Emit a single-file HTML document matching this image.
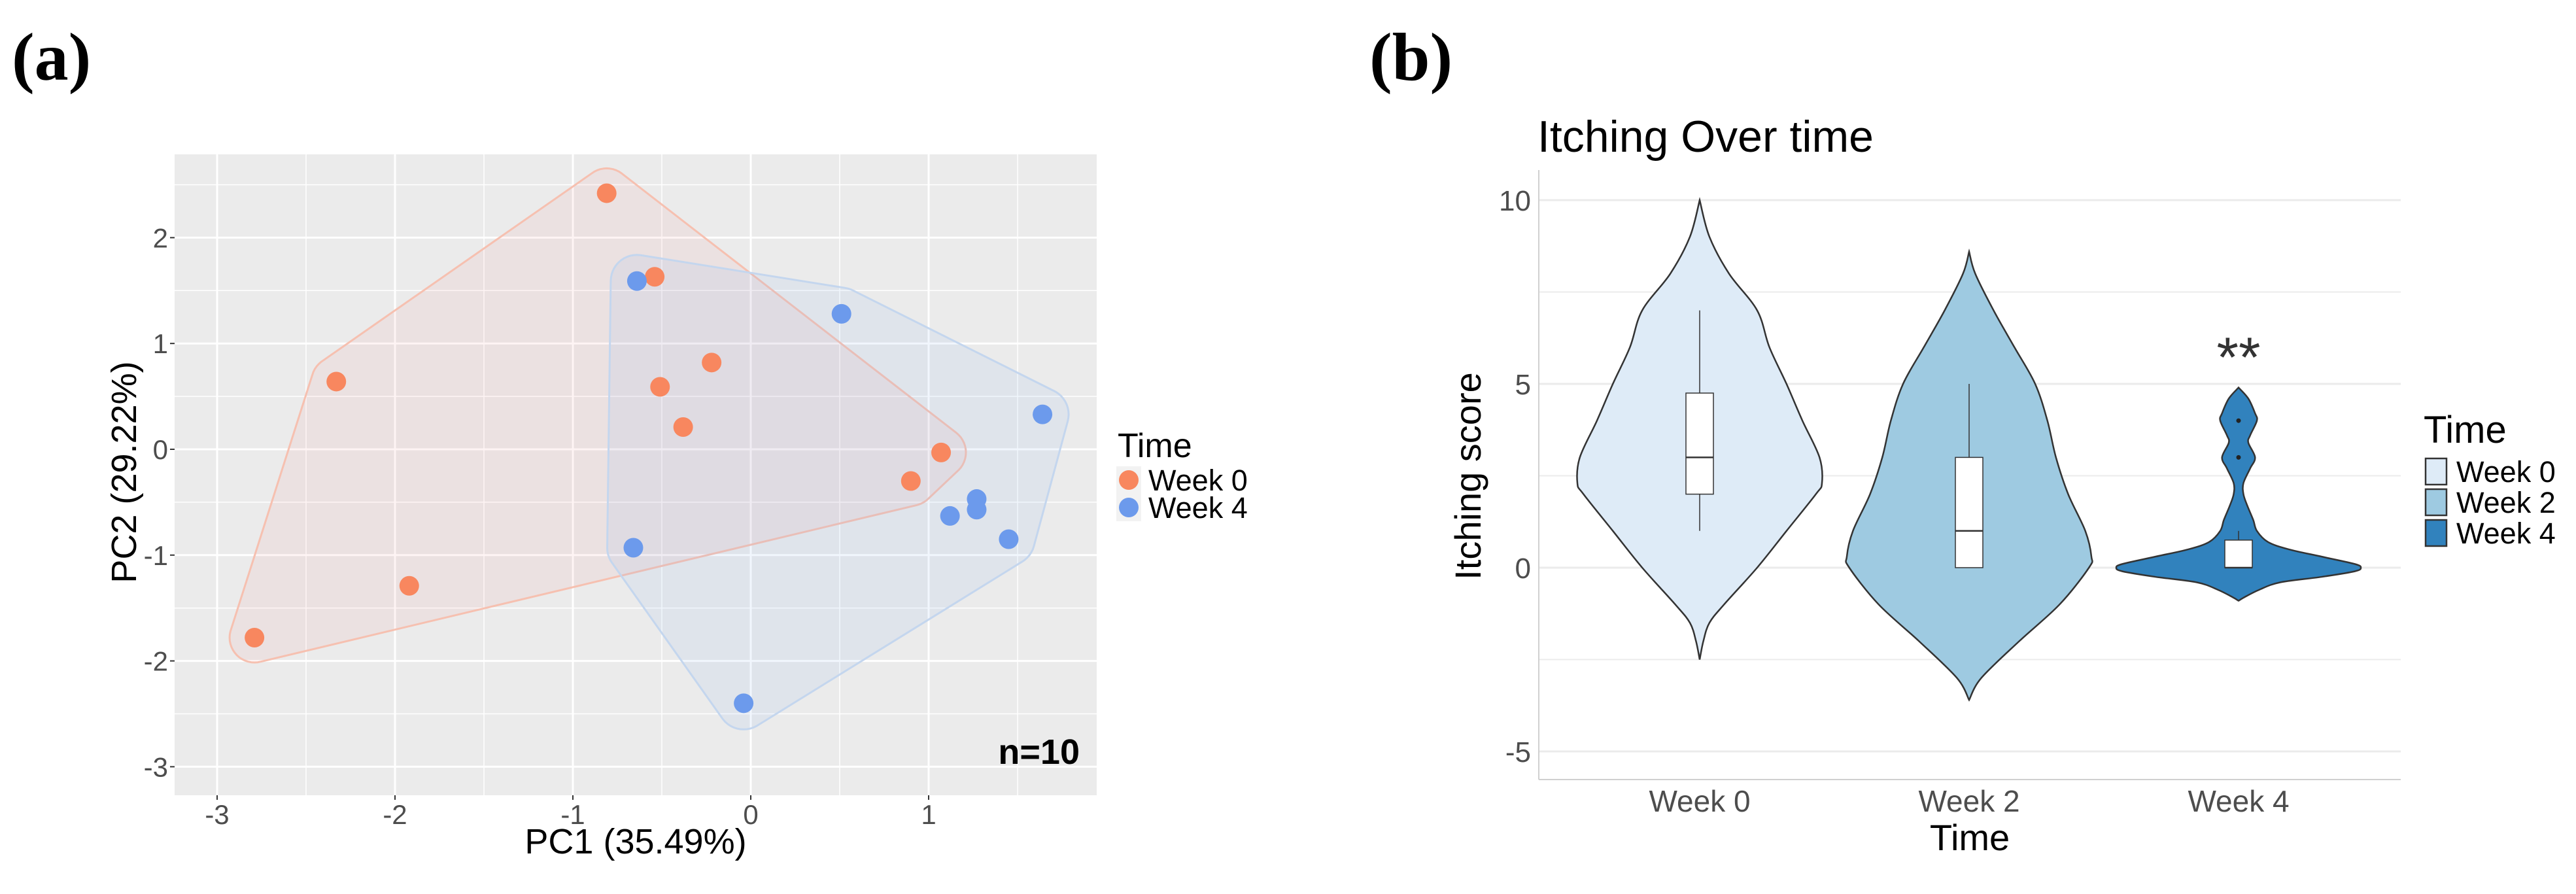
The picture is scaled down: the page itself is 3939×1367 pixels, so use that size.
<!DOCTYPE html>
<html><head><meta charset="utf-8">
<style>
html,body{margin:0;padding:0;background:#fff;}
svg{display:block;font-family:"Liberation Sans",Arial,sans-serif;}
</style></head>
<body>
<svg id="fig" width="3939" height="1367" viewBox="0 0 3939 1367" xmlns="http://www.w3.org/2000/svg">
  <text x="18" y="122" font-family="Liberation Serif,serif" font-weight="bold" font-size="104">(a)</text>
  <text x="2094" y="122" font-family="Liberation Serif,serif" font-weight="bold" font-size="104">(b)</text>
  <g id="pa"></g>
  <g id="pb"></g>
</svg>
<script>
// ---------- Panel (a) data ----------
const week0PC1 = [-0.81, -0.54, -0.22, -0.51, -0.38, -2.33, -1.92, -2.79, 1.07, 0.90];
const week0PC2 = [2.42, 1.63, 0.82, 0.59, 0.21, 0.64, -1.29, -1.78, -0.03, -0.30];
const week4PC1 = [-0.64, 0.51, 1.64, 1.27, 1.27, 1.12, 1.45, -0.66, -0.04];
const week4PC2 = [1.59, 1.28, 0.33, -0.47, -0.57, -0.63, -0.85, -0.93, -2.40];
const xTicksA = [-3, -2, -1, 0, 1];
const yTicksA = [2, 1, 0, -1, -2, -3];

// ---------- Panel (b) data ----------
const categories = ["Week 0", "Week 2", "Week 4"];
const violinScores = [
  [10, 9, 8, 7, 6, 5, 4, 3, 2.3, 2, 1, 0, -1, -1.5, -2, -2.5],
  [8.6, 8, 7, 6, 5, 4, 3, 2, 1, 0.3, 0, -1, -2, -3, -3.6],
  [4.9, 4.6, 4.2, 4.0, 3.6, 3.4, 3.0, 2.7, 2.3, 2.0, 1.7, 1.3, 1.0, 0.7, 0.5, 0.3, 0.1, 0, -0.1, -0.25, -0.4, -0.6, -0.8, -0.9]
];
const violinDensity = [
  [0, 0.08, 0.24, 0.47, 0.57, 0.71, 0.84, 0.98, 1, 0.95, 0.71, 0.47, 0.2, 0.08, 0.03, 0],
  [0, 0.05, 0.2, 0.37, 0.54, 0.64, 0.71, 0.81, 0.95, 1, 0.98, 0.74, 0.41, 0.1, 0],
  [0, 0.08, 0.135, 0.15, 0.095, 0.08, 0.135, 0.095, 0.04, 0.04, 0.07, 0.12, 0.15, 0.24, 0.41, 0.68, 0.95, 1, 0.95, 0.68, 0.34, 0.17, 0.05, 0]
];
const boxLow = [1, 0, 0];
const boxQ1 = [2, 0, 0];
const boxMed = [3, 1, 0];
const boxQ3 = [4.75, 3, 0.75];
const boxHigh = [7, 5, 1];
const outlierCat = [2, 2];
const outlierVal = [3, 4];
const yTicksB = [10, 5, 0, -5];
const yGridB = [10, 7.5, 5, 2.5, 0, -2.5, -5];
const fillsB = ["#DEEBF7", "#9ECAE1", "#3182BD"];

const NS = "http://www.w3.org/2000/svg";
function mk(parent, tag, attrs, txt){
  const e = document.createElementNS(NS, tag);
  for (const k in attrs) e.setAttribute(k, attrs[k]);
  if (txt !== undefined) e.textContent = txt;
  parent.appendChild(e);
  return e;
}
function polyPath(pts){
  return "M" + pts.map(p=>p[0].toFixed(1)+","+p[1].toFixed(1)).join("L") + "Z";
}
function smoothOpen(pts){
  let d = "M" + pts[0][0] + "," + pts[0][1];
  for (let i = 0; i < pts.length-1; i++){
    const p0 = pts[Math.max(0,i-1)], p1 = pts[i], p2 = pts[i+1], p3 = pts[Math.min(pts.length-1,i+2)];
    const c1 = [p1[0]+(p2[0]-p0[0])/6, p1[1]+(p2[1]-p0[1])/6];
    const c2 = [p2[0]-(p3[0]-p1[0])/6, p2[1]-(p3[1]-p1[1])/6];
    d += "C"+c1[0]+","+c1[1]+" "+c2[0]+","+c2[1]+" "+p2[0]+","+p2[1];
  }
  return d;
}
function hull(pts){
  const p = pts.slice().sort((a,b)=>a[0]-b[0]||a[1]-b[1]);
  const cr=(o,a,b)=>(a[0]-o[0])*(b[1]-o[1])-(a[1]-o[1])*(b[0]-o[0]);
  const lo=[],up=[];
  for(const q of p){while(lo.length>=2&&cr(lo[lo.length-2],lo[lo.length-1],q)<=0)lo.pop();lo.push(q);}
  for(const q of p.slice().reverse()){while(up.length>=2&&cr(up[up.length-2],up[up.length-1],q)<=0)up.pop();up.push(q);}
  up.pop();lo.pop();return lo.concat(up);
}
function roundedHull(pts, r){
  const cloud = [];
  pts.forEach(p=>{
    for (let k = 0; k < 48; k++){
      const a = k*Math.PI*2/48;
      cloud.push([p[0]+r*Math.cos(a), p[1]+r*Math.sin(a)]);
    }
  });
  return hull(cloud);
}

// ---------- Panel (a) ----------
(function(){
  const g = document.getElementById("pa");
  const L=267,R=1677,T=236,B=1216;
  const sx = v => 1148 + 272*v;
  const sy = v => 687 - 161.8*v;
  const bg = mk(g,"rect",{x:L,y:T,width:R-L,height:B-T,fill:"#EBEBEB"});
  
  
  for (let v=-3.5; v<=2; v+=0.5){
    const x = sx(v); if (x<L||x>R) continue;
    mk(g,"line",{x1:x,x2:x,y1:T,y2:B,stroke:"#fff","stroke-width":Number.isInteger(v)?3:1.5});
  }
  for (let v=-3.5; v<=3; v+=0.5){
    const y = sy(v); if (y<T||y>B) continue;
    mk(g,"line",{x1:L,x2:R,y1:y,y2:y,stroke:"#fff","stroke-width":Number.isInteger(v)?3:1.5});
  }
  xTicksA.forEach(v=>{
    mk(g,"line",{x1:sx(v),x2:sx(v),y1:B,y2:B+7,stroke:"#333","stroke-width":2});
    const t = mk(g,"text",{x:sx(v),y:B+44,"text-anchor":"middle","font-size":42,fill:"#4D4D4D"},String(v));
    
    
  });
  yTicksA.forEach(v=>{
    mk(g,"line",{x1:L-7,x2:L,y1:sy(v),y2:sy(v),stroke:"#333","stroke-width":2});
    const t = mk(g,"text",{x:L-10,y:sy(v)+15,"text-anchor":"end","font-size":42,fill:"#4D4D4D"},String(v));
    
    
  });
  const p0 = week0PC1.map((x,i)=>[sx(x),sy(week0PC2[i])]);
  const p4 = week4PC1.map((x,i)=>[sx(x),sy(week4PC2[i])]);
  const h0 = mk(g,"path",{d:polyPath(roundedHull(p0,38)),fill:"#F8766D","fill-opacity":0.08,stroke:"#F6C0B0","stroke-width":3,"stroke-linejoin":"round"});
  
  
  const h4 = mk(g,"path",{d:polyPath(roundedHull(p4,40)),fill:"#8FB5F0","fill-opacity":0.12,stroke:"#C4D6EE","stroke-width":3,"stroke-linejoin":"round"});
  
  
  p0.forEach(p=>{
    const c = mk(g,"circle",{cx:p[0],cy:p[1],r:15,fill:"#F8875F"});
    
    
  });
  p4.forEach(p=>{
    const c = mk(g,"circle",{cx:p[0],cy:p[1],r:15,fill:"#6C9AEC"});
    
    
  });
  const n = mk(g,"text",{x:1651,y:1168,"text-anchor":"end","font-size":54,"font-weight":"bold",fill:"#000"},"n=10");
  
  
  const xt = mk(g,"text",{x:972,y:1305,"text-anchor":"middle","font-size":54,fill:"#000"},"PC1 (35.49%)");
  
  
  const yt = mk(g,"text",{x:0,y:0,"text-anchor":"middle","font-size":54,fill:"#000",transform:"translate(208,722) rotate(-90)"},"PC2 (29.22%)");
  
  
  const lt = mk(g,"text",{x:1709,y:699,"font-size":52,fill:"#000"},"Time");
  
  
  [["Week 0","#F8875F",734],["Week 4","#6C9AEC",776]].forEach(k=>{
    const e = mk(g,"g",{});
    
    
    mk(e,"rect",{x:1707,y:k[2]-21,width:38,height:42,fill:"#F2F2F2"});
    mk(e,"circle",{cx:1726,cy:k[2],r:15,fill:k[1]});
    mk(e,"text",{x:1756,y:k[2]+16,"font-size":45,fill:"#000"},k[0]);
  });
})();

// ---------- Panel (b) ----------
(function(){
  const g = document.getElementById("pb");
  const L=2353,R=3671,T=260,B=1192;
  const sy = v => 868 - 56.2*v;
  const cx = i => 3011 + (i-1)*412;
  const maxHalf = 187;
  yGridB.forEach(v=>{
    mk(g,"line",{x1:L,x2:R,y1:sy(v),y2:sy(v),stroke:"#EBEBEB","stroke-width":Number.isInteger(v)?3:2});
  });
  mk(g,"line",{x1:L,x2:L,y1:T,y2:B,stroke:"#D0D0D0","stroke-width":2});
  mk(g,"line",{x1:L,x2:R,y1:B,y2:B,stroke:"#D0D0D0","stroke-width":2});
  yTicksB.forEach(v=>{
    const t = mk(g,"text",{x:L-12,y:sy(v)+16,"text-anchor":"end","font-size":44,fill:"#4D4D4D"},String(v));
    
    
  });
  categories.forEach((c,i)=>{
    const sc = violinScores[i], de = violinDensity[i];
    const right = sc.map((s,j)=>[cx(i)+de[j]*maxHalf, sy(s)]);
    const left = sc.map((s,j)=>[cx(i)-de[j]*maxHalf, sy(s)]).reverse();
    const d = smoothOpen(right) + smoothOpen(left).replace("M","L") + "Z";
    const v = mk(g,"path",{d:d,fill:fillsB[i],stroke:"#333","stroke-width":2.5});
    
    
    const bx = mk(g,"g",{});
    
    
    mk(bx,"line",{x1:cx(i),x2:cx(i),y1:sy(boxLow[i]),y2:sy(boxHigh[i]),stroke:"#333","stroke-width":1.5});
    mk(bx,"rect",{x:cx(i)-21,y:sy(boxQ3[i]),width:42,height:Math.max(0,sy(boxQ1[i])-sy(boxQ3[i])),fill:"#fff",stroke:"#333","stroke-width":1.5});
    mk(bx,"line",{x1:cx(i)-21,x2:cx(i)+21,y1:sy(boxMed[i]),y2:sy(boxMed[i]),stroke:"#333","stroke-width":2.5});
    const t = mk(g,"text",{x:cx(i),y:1241,"text-anchor":"middle","font-size":46,fill:"#4D4D4D"},c);
    
    
  });
  outlierCat.forEach((c,j)=>{
    const o = mk(g,"circle",{cx:cx(c),cy:sy(outlierVal[j]),r:3.5,fill:"#222"});
    
    
  });
  const st = mk(g,"text",{x:cx(2),y:sy(5.2),"text-anchor":"middle","font-size":86,fill:"#333"},"**");
  
  
  const ti = mk(g,"text",{x:2351,y:232,"font-size":68,fill:"#000"},"Itching Over time");
  
  
  const yt = mk(g,"text",{x:0,y:0,"text-anchor":"middle","font-size":56,fill:"#000",transform:"translate(2264,728) rotate(-90)"},"Itching score");
  
  
  const xt = mk(g,"text",{x:3012,y:1300,"text-anchor":"middle","font-size":56,fill:"#000"},"Time");
  
  
  const lt = mk(g,"text",{x:3706,y:677,"font-size":58,fill:"#000"},"Time");
  
  
  categories.forEach((c,i)=>{
    const e = mk(g,"g",{});
    
    
    const y = 701 + i*47;
    mk(e,"rect",{x:3709,y:y,width:32,height:40,fill:fillsB[i],stroke:"#333","stroke-width":2.5});
    mk(e,"text",{x:3756,y:y+36,"font-size":45,fill:"#000"},c);
  });
})();
</script>
</body></html>
